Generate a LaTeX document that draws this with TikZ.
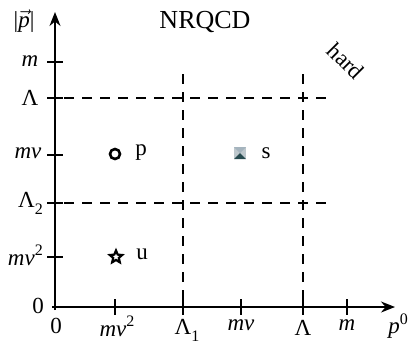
\documentclass[tikz,border=0pt]{standalone}
\usepackage{fontspec}
\setmainfont{Liberation Serif}
\usetikzlibrary{arrows.meta,shapes.geometric}
\newcommand{\supx}[1]{\raisebox{0.42em}{\fontsize{16}{16}\selectfont #1}}
\newcommand{\subx}[1]{\raisebox{-0.3em}{\fontsize{16}{16}\selectfont #1}}
\definecolor{sqtop}{RGB}{165,180,190}
\definecolor{sqside}{RGB}{190,200,205}
\definecolor{sqbot}{RGB}{40,75,80}
\tikzset{
  axis/.style={line width=1.5pt,-{Stealth[length=14pt,width=11pt]}},
  tick/.style={line width=1.3pt},
  dline/.style={line width=1.4pt,dash pattern=on 10pt off 8pt},
  lab/.style={font=\fontsize{23}{26}\selectfont,inner sep=0pt},
  ring/.style={circle,draw,line width=2.6pt,minimum size=10pt,inner sep=0pt},
  starm/.style={star,star points=5,star point ratio=2.2,draw,line width=2.2pt,minimum size=13pt,inner sep=0pt}
}
\begin{document}
\begin{tikzpicture}[x=1pt,y=-1pt]
\useasboundingbox (0,0) rectangle (419,354);
\coordinate (O) at (55,307);
\coordinate (ytop) at (55,12);
\coordinate (xend) at (395,307);
\draw[axis] (55,310) -- (ytop);
\draw[axis] (52,307) -- (xend);
% y ticks
\foreach \yy/\nm in {62/ym,98/yL,155/ymv,203/yL2,257/ymv2}{
  \coordinate (\nm) at (55,\yy);
  \draw[tick] (47,\yy) -- (63,\yy);
}
% x ticks
\foreach \xx/\nm in {115/xmv2,183/xL1,241/xmv,303/xL,347/xm}{
  \coordinate (\nm) at (\xx,307);
  \draw[tick] (\xx,299) -- (\xx,315);
}
% dashed lines
\coordinate (hA1) at (64,98);
\coordinate (hA2) at (330,98);
\coordinate (hB1) at (64,203);
\coordinate (hB2) at (330,203);
\coordinate (vA1) at (183,74);
\coordinate (vA2) at (183,300);
\coordinate (vB1) at (303,74);
\coordinate (vB2) at (303,300);
\draw[dline] (hA1) -- (hA2);
\draw[dline] (hB1) -- (hB2);
\draw[dline] (vA1) -- (vA2);
\draw[dline] (vB1) -- (vB2);
% axis labels
\node[lab] (pv) at (24,21) {|$\vec{\mbox{\textit{p}}}$|};
\node[lab,font=\fontsize{26}{28}\selectfont] (nrqcd) at (205,22) {NRQCD};
\node[lab,rotate=-45] (hard) at (346,61) {hard};
\node[lab] (lm) at (30,61) {\textit{m}};
\node[lab] (lL) at (30,98) {Λ};
\node[lab] (lmv) at (28,153) {\textit{mv}};
\node[lab,anchor=east] (lL2) at (43,203) {Λ\subx{2}};
\node[lab,anchor=east] (lmv2) at (43,255) {\textit{mv}\supx{2}};
\node[lab] (l0y) at (38,306) {0};
\node[lab] (l0x) at (56,326) {0};
\node[lab] (bmv2) at (117,326) {\textit{mv}\supx{2}};
\node[lab] (bL1) at (187,330) {Λ\subx{1}};
\node[lab] (bmv) at (241,325) {\textit{mv}};
\node[lab] (bL) at (303,328) {Λ};
\node[lab] (bm) at (347,325) {\textit{m}};
\node[lab] (bp0) at (398,326) {\textit{p}\supx{0}};
% points
\node[ring] (pm) at (115,154) {};
\node[lab] (pl) at (141,153) {p};
\node[starm] (um) at (116,257) {};
\node[lab] (ul) at (142,254) {u};
\coordinate (s) at (240,153);
\fill[sqside] (234,147) rectangle (246,159);
\fill[sqtop] (234,147) -- (246,147) -- (240,153) -- cycle;
\fill[sqbot] (234,159) -- (246,159) -- (240,153) -- cycle;
\node[lab] (sl) at (266,153) {s};
\end{tikzpicture}
\end{document}
